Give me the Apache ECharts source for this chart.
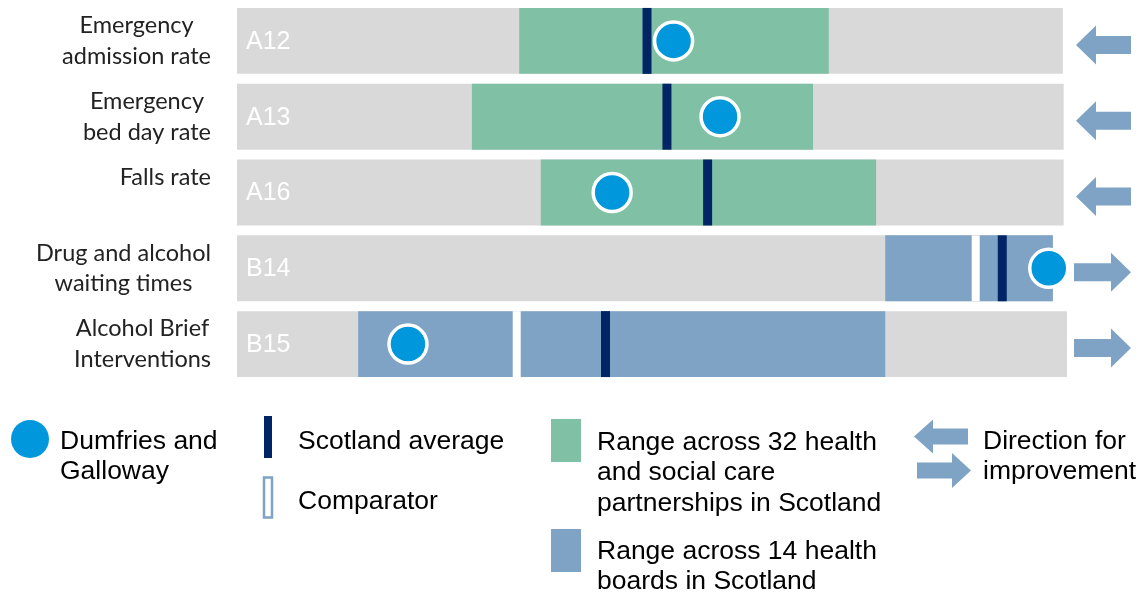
<!DOCTYPE html>
<html>
<head>
<meta charset="utf-8">
<title>Dumfries and Galloway indicators</title>
<script src="https://cdn.jsdelivr.net/npm/echarts@6.0.0/dist/echarts.min.js"></script>
<style>
  html, body { margin: 0; padding: 0; background: #ffffff; }
  #chart { width: 1145px; height: 592px; }
</style>
</head>
<body>
<div id="chart"></div>
<script>
// Indicator rows, top to bottom
const codes = ['A12', 'A13', 'A16', 'B14', 'B15'];
const indicatorNames = [
  ['Emergency', 'admission rate'],
  ['Emergency', 'bed day rate'],
  ['Falls rate', ''],
  ['Drug and alcohol', 'waiting times'],
  ['Alcohol Brief', 'Interventions']
];
// Positions on a common 0-100 scale
const scaleEnd = [99.5, 99.6, 99.6, 98.3, 100];
const rangeLow = [34.0, 28.3, 36.6, 78.1, 14.6];
const rangeHigh = [71.3, 69.4, 77.0, 98.3, 78.1];
const rangeGroup = ['partnership', 'partnership', 'partnership', 'board', 'board'];
const comparator = [null, null, null, 89.0, 33.7];
const scotlandAverage = [49.4, 51.8, 56.7, 92.2, 44.4];
const dumfriesGalloway = [52.6, 58.2, 45.2, 97.8, 20.6];
const improvementDirection = ['left', 'left', 'left', 'right', 'right'];

// Legend texts
const legendLocal = 'Dumfries and\nGalloway';
const legendAverage = 'Scotland average';
const legendComparator = 'Comparator';
const legendPartnerships = 'Range across 32 health\nand social care\npartnerships in Scotland';
const legendBoards = 'Range across 14 health\nboards in Scotland';
const legendDirection = 'Direction for\nimprovement';

const COLORS = {
  track: '#d9d9d9',
  partnership: '#80c1a5',
  board: '#7fa3c5',
  average: '#002464',
  local: '#0097dc',
  arrow: '#7fa3c5',
  label: '#222222',
  legendText: '#000000'
};
const LABEL_FONT = '23.5px Lato';
const LEGEND_FONT = '26.5px "Liberation Sans"';
const BAR_FRACTION = 0.87;

// width of the widest line of a row title, used to centre its lines under a right edge
const measureCtx = document.createElement('canvas').getContext('2d');
function textWidth(str, font) {
  measureCtx.font = font;
  return measureCtx.measureText(str).width;
}

function barHeight(api) {
  return api.size([0, 1])[1] * BAR_FRACTION;
}

function arrowPoints(dir, x0, x1, cy, headLen, headH, shaftH) {
  if (dir === 'left') {
    return [
      [x0, cy], [x0 + headLen, cy - headH / 2], [x0 + headLen, cy - shaftH / 2],
      [x1, cy - shaftH / 2], [x1, cy + shaftH / 2], [x0 + headLen, cy + shaftH / 2],
      [x0 + headLen, cy + headH / 2]
    ];
  }
  return [
    [x1, cy], [x1 - headLen, cy - headH / 2], [x1 - headLen, cy - shaftH / 2],
    [x0, cy - shaftH / 2], [x0, cy + shaftH / 2], [x1 - headLen, cy + shaftH / 2],
    [x1 - headLen, cy + headH / 2]
  ];
}

const rows = codes.map((c, i) => i);

const option = {
  animation: false,
  grid: { left: 237, width: 830, top: 3, height: 379 },
  xAxis: { type: 'value', min: 0, max: 100, show: false },
  yAxis: { type: 'category', data: codes, inverse: true, show: false },
  series: [
    {
      // grey track with the indicator code
      type: 'custom',
      z: 1,
      data: rows.map(i => [i, 0, scaleEnd[i]]),
      encode: { y: 0, x: [1, 2] },
      renderItem(params, api) {
        const i = api.value(0);
        const a = api.coord([api.value(1), i]);
        const b = api.coord([api.value(2), i]);
        const h = barHeight(api);
        return {
          type: 'group',
          children: [
            { type: 'rect', shape: { x: a[0], y: a[1] - h / 2, width: b[0] - a[0], height: h }, style: { fill: COLORS.track } },
            { type: 'text', x: a[0] + 9, y: a[1] + 1, style: { text: codes[i], fill: '#ffffff', font: '25px "Liberation Sans"', verticalAlign: 'middle', align: 'left' } }
          ]
        };
      }
    },
    {
      // range across partnerships or health boards
      type: 'custom',
      z: 2,
      data: rows.map(i => [i, rangeLow[i], rangeHigh[i]]),
      encode: { y: 0, x: [1, 2] },
      renderItem(params, api) {
        const i = api.value(0);
        const a = api.coord([api.value(1), i]);
        const b = api.coord([api.value(2), i]);
        const h = barHeight(api);
        return { type: 'rect', shape: { x: a[0], y: a[1] - h / 2, width: b[0] - a[0], height: h }, style: { fill: COLORS[rangeGroup[i]] } };
      }
    },
    {
      // comparator marked as a white gap across the range
      type: 'custom',
      z: 3,
      data: rows.filter(i => comparator[i] !== null).map(i => [i, comparator[i]]),
      encode: { y: 0, x: 1 },
      renderItem(params, api) {
        const i = api.value(0);
        const p = api.coord([api.value(1), i]);
        const h = barHeight(api);
        const w = 8;
        return { type: 'rect', shape: { x: p[0] - w / 2, y: p[1] - h / 2, width: w, height: h }, style: { fill: '#ffffff' } };
      }
    },
    {
      // Scotland average
      type: 'custom',
      z: 4,
      data: rows.map(i => [i, scotlandAverage[i]]),
      encode: { y: 0, x: 1 },
      renderItem(params, api) {
        const i = api.value(0);
        const p = api.coord([api.value(1), i]);
        const h = barHeight(api);
        const w = 9;
        return { type: 'rect', shape: { x: p[0] - w / 2, y: p[1] - h / 2, width: w, height: h }, style: { fill: COLORS.average } };
      }
    },
    {
      name: 'Dumfries and Galloway',
      type: 'scatter',
      z: 5,
      data: rows.map(i => [dumfriesGalloway[i], i]),
      symbol: 'circle',
      symbolSize: 38,
      itemStyle: { color: COLORS.local, borderColor: '#ffffff', borderWidth: 3.5, opacity: 1 }
    },
    {
      // direction for improvement, to the right of each track
      type: 'custom',
      z: 2,
      data: rows.map(i => [i, 100]),
      encode: { y: 0, x: 1 },
      renderItem(params, api) {
        const i = api.value(0);
        const p = api.coord([api.value(1), i]);
        const dir = improvementDirection[i];
        const x0 = p[0] + (dir === 'left' ? 9 : 7);
        const pts = arrowPoints(dir, x0, p[0] + 64, p[1] + 4, 20, 39, 18);
        return { type: 'polygon', shape: { points: pts }, style: { fill: COLORS.arrow } };
      }
    },
    {
      // indicator titles, left of the tracks
      type: 'custom',
      z: 2,
      data: rows.map(i => [i, 0]),
      encode: { y: 0, x: 1 },
      renderItem(params, api) {
        const i = api.value(0);
        const p = api.coord([0, i]);
        const lines = indicatorNames[i];
        const w = Math.max.apply(null, lines.map(l => textWidth(l, LABEL_FONT)));
        const cx = p[0] - 26 - w / 2;
        return {
          type: 'text',
          x: cx,
          y: p[1],
          style: {
            text: lines.join('\n'),
            font: LABEL_FONT,
            fill: COLORS.label,
            align: 'center',
            verticalAlign: 'middle',
            lineHeight: 30.5
          }
        };
      }
    }
  ],
  graphic: [
    // local area marker
    { type: 'circle', shape: { cx: 30, cy: 439, r: 19 }, style: { fill: COLORS.local } },
    { type: 'text', left: 60, top: 427, style: { text: legendLocal, font: LEGEND_FONT, fill: COLORS.legendText, lineHeight: 30 } },
    // Scotland average
    { type: 'rect', shape: { x: 264, y: 416, width: 8, height: 42 }, style: { fill: COLORS.average } },
    { type: 'text', left: 298, top: 427, style: { text: legendAverage, font: LEGEND_FONT, fill: COLORS.legendText, lineHeight: 30 } },
    // comparator
    { type: 'rect', shape: { x: 264, y: 477.5, width: 8, height: 40 }, style: { fill: '#ffffff', stroke: COLORS.board, lineWidth: 2.5 } },
    { type: 'text', left: 298, top: 487, style: { text: legendComparator, font: LEGEND_FONT, fill: COLORS.legendText, lineHeight: 30 } },
    // partnership range
    { type: 'rect', shape: { x: 551, y: 419, width: 30, height: 43 }, style: { fill: COLORS.partnership } },
    { type: 'text', left: 597, top: 427, style: { text: legendPartnerships, font: LEGEND_FONT, fill: COLORS.legendText, lineHeight: 30.5 } },
    // health board range
    { type: 'rect', shape: { x: 551, y: 529, width: 30, height: 43 }, style: { fill: COLORS.board } },
    { type: 'text', left: 597, top: 536, style: { text: legendBoards, font: LEGEND_FONT, fill: COLORS.legendText, lineHeight: 30.5 } },
    // direction for improvement
    { type: 'polygon', shape: { points: arrowPoints('left', 914, 968, 436.5, 19, 34, 16) }, style: { fill: COLORS.arrow } },
    { type: 'polygon', shape: { points: arrowPoints('right', 917, 971, 470.5, 19, 35, 16) }, style: { fill: COLORS.arrow } },
    { type: 'text', left: 983, top: 427, style: { text: legendDirection, font: LEGEND_FONT, fill: COLORS.legendText, lineHeight: 30 } }
  ]
};

const chart = echarts.init(document.getElementById('chart'), null, { renderer: 'canvas' });
chart.setOption(option);
</script>
</body>
</html>
